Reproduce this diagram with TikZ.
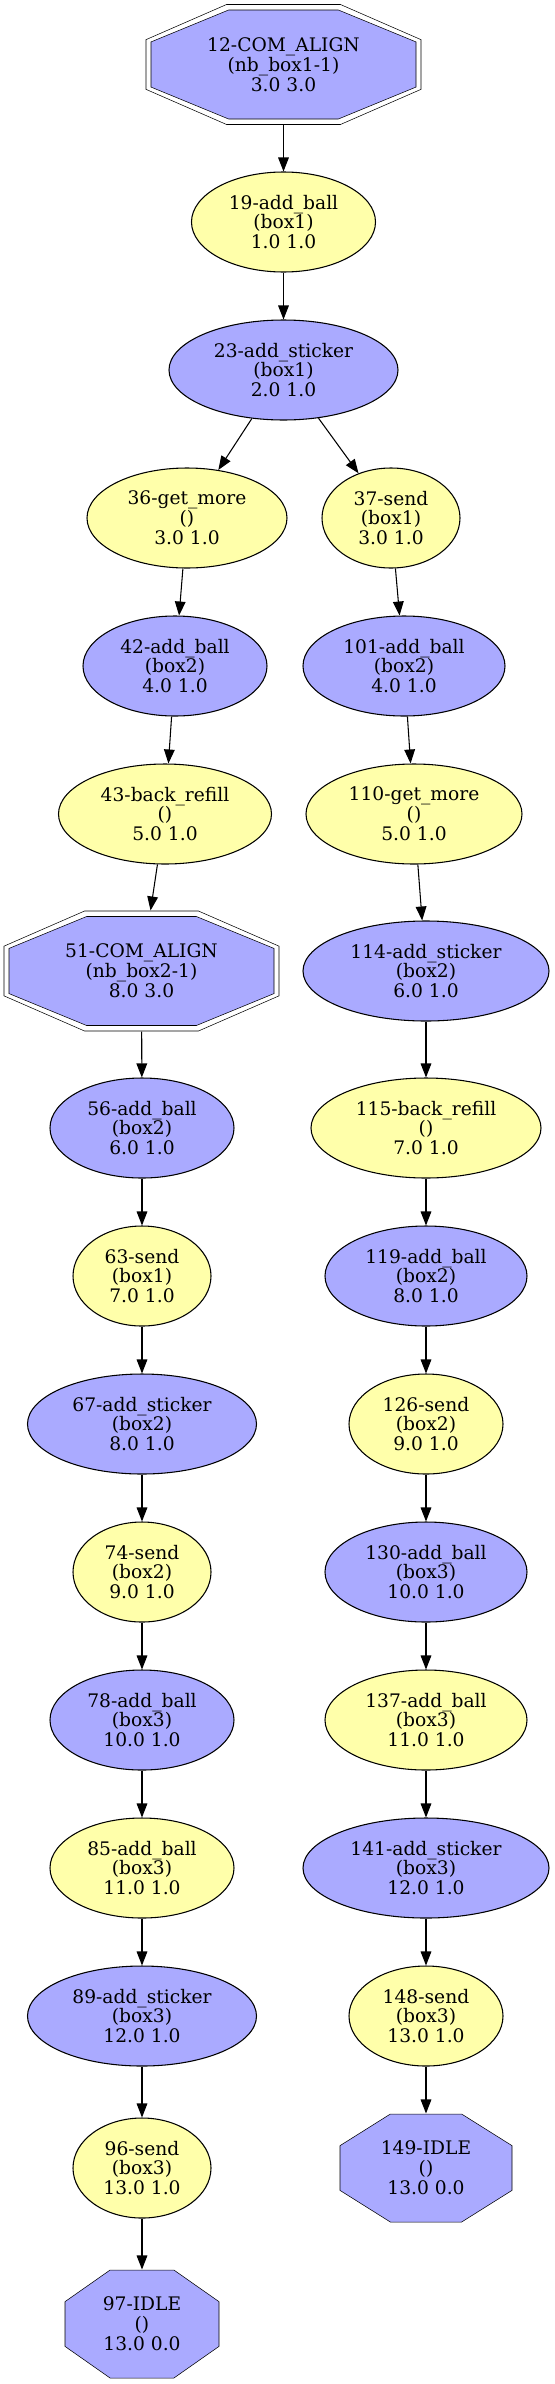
\documentclass[tikz,border=0pt]{standalone}
\usepackage{fontspec}
\setmainfont{DejaVu Serif}
\usepackage{tikz}
\usetikzlibrary{shapes.geometric,arrows.meta,backgrounds}
\definecolor{bluefill}{HTML}{AAAAFF}
\definecolor{yellowfill}{HTML}{FFFFAA}

\begin{document}
\begin{tikzpicture}[x=0.75pt,y=-0.75pt,line width=0.8pt,
	>={Triangle[length=10.5pt,width=8pt]},
	every node/.style={align=center,font={\fontsize{14}{14.9}\selectfont\lineskiplimit-5pt}},
	ynode/.style={ellipse,draw,fill=yellowfill,inner sep=0pt,minimum height=75pt,minimum width=#1},
	bnode/.style={ellipse,draw,fill=bluefill,inner sep=0pt,minimum height=75pt,minimum width=#1},
	onode/.style 2 args={rectangle,inner sep=0pt,minimum width=#1,minimum height=#2}]

\useasboundingbox (0,0) rectangle (554,2384);

% top chain
\draw	(283.5,64.5) node[onode={206.25pt}{90pt}] (s12) {12-COM\_ALIGN\\(nb\_box1-1)\\3.0 3.0}
		(283.5,222) node[ynode=138pt] (s19) {19-add\_ball\\(box1)\\1.0 1.0}
		(283.5,370) node[bnode=171.75pt] (s23) {23-add\_sticker\\(box1)\\2.0 1.0};

% left branch
\draw	(187,518) node[ynode=150pt] (s36) {36-get\_more\\()\\3.0 1.0}
		(175,666) node[bnode=138pt] (s42) {42-add\_ball\\(box2)\\4.0 1.0}
		(165,814) node[ynode=159.75pt] (s43) {43-back\_refill\\()\\5.0 1.0}
		(141.5,971) node[onode={206.25pt}{90pt}] (s51) {51-COM\_ALIGN\\(nb\_box2-1)\\8.0 3.0}
		(142,1128) node[bnode=138pt] (s56) {56-add\_ball\\(box2)\\6.0 1.0}
		(142,1276) node[ynode=103.5pt] (s63) {63-send\\(box1)\\7.0 1.0}
		(142,1424) node[bnode=171.75pt] (s67) {67-add\_sticker\\(box2)\\8.0 1.0}
		(142,1572) node[ynode=103.5pt] (s74) {74-send\\(box2)\\9.0 1.0}
		(142,1720) node[bnode=138pt] (s78) {78-add\_ball\\(box3)\\10.0 1.0}
		(142,1868) node[ynode=138pt] (s85) {85-add\_ball\\(box3)\\11.0 1.0}
		(142,2016) node[bnode=171.75pt] (s89) {89-add\_sticker\\(box3)\\12.0 1.0}
		(142,2168) node[ynode=103.5pt] (s96) {96-send\\(box3)\\13.0 1.0}
		(142,2324) node[onode={115.5pt}{81pt}] (s97) {97-IDLE\\()\\13.0 0.0};

% right branch
\draw	(391,518) node[ynode=103.5pt] (s37) {37-send\\(box1)\\3.0 1.0}
		(404,666) node[bnode=151.5pt] (s101) {101-add\_ball\\(box2)\\4.0 1.0}
		(414,814) node[ynode=162pt] (s110) {110-get\_more\\()\\5.0 1.0}
		(426,971) node[bnode=184.5pt] (s114) {114-add\_sticker\\(box2)\\6.0 1.0}
		(426,1128) node[ynode=172.5pt] (s115) {115-back\_refill\\()\\7.0 1.0}
		(426,1276) node[bnode=151.5pt] (s119) {119-add\_ball\\(box2)\\8.0 1.0}
		(426,1424) node[ynode=115.5pt] (s126) {126-send\\(box2)\\9.0 1.0}
		(426,1572) node[bnode=151.5pt] (s130) {130-add\_ball\\(box3)\\10.0 1.0}
		(426,1720) node[ynode=151.5pt] (s137) {137-add\_ball\\(box3)\\11.0 1.0}
		(426,1868) node[bnode=184.5pt] (s141) {141-add\_sticker\\(box3)\\12.0 1.0}
		(426,2016) node[ynode=115.5pt] (s148) {148-send\\(box3)\\13.0 1.0}
		(426,2168) node[onode={129pt}{81pt}] (s149) {149-IDLE\\()\\13.0 0.0};

% octagons
\begin{scope}[on background layer]
\foreach \n/\a/\b in {s12/137.5/60, s51/137.5/60}
	\draw ([shift={(\a,{0.4142*\b})}]\n.center) -- ([shift={({0.4142*\a},\b)}]\n.center)
		-- ([shift={({-0.4142*\a},\b)}]\n.center) -- ([shift={(-\a,{0.4142*\b})}]\n.center)
		-- ([shift={(-\a,{-0.4142*\b})}]\n.center) -- ([shift={({-0.4142*\a},-\b)}]\n.center)
		-- ([shift={({0.4142*\a},-\b)}]\n.center) -- ([shift={(\a,{-0.4142*\b})}]\n.center) -- cycle;
\foreach \n/\a/\b in {s12/132.5/54.5, s51/132.5/54.5, s97/77/54, s149/86/54}
	\draw[fill=bluefill] ([shift={(\a,{0.4142*\b})}]\n.center) -- ([shift={({0.4142*\a},\b)}]\n.center)
		-- ([shift={({-0.4142*\a},\b)}]\n.center) -- ([shift={(-\a,{0.4142*\b})}]\n.center)
		-- ([shift={(-\a,{-0.4142*\b})}]\n.center) -- ([shift={({-0.4142*\a},-\b)}]\n.center)
		-- ([shift={({0.4142*\a},-\b)}]\n.center) -- ([shift={(\a,{-0.4142*\b})}]\n.center) -- cycle;
\end{scope}

% edges
\path[->] (s12) edge (s19)
		(s19) edge (s23)
		(s23) edge (s36)
			  edge (s37);

\path[->] (s36) edge (s42)
		(s42) edge (s43)
		(s43) edge (s51)
		(s51) edge (s56)
		(s56) edge (s63)
		(s63) edge (s67)
		(s67) edge (s74)
		(s74) edge (s78)
		(s78) edge (s85)
		(s85) edge (s89)
		(s89) edge (s96)
		(s96) edge (s97);

\path[->] (s37) edge (s101)
		(s101) edge (s110)
		(s110) edge (s114)
		(s114) edge (s115)
		(s115) edge (s119)
		(s119) edge (s126)
		(s126) edge (s130)
		(s130) edge (s137)
		(s137) edge (s141)
		(s141) edge (s148)
		(s148) edge (s149);
\end{tikzpicture}
\end{document}
